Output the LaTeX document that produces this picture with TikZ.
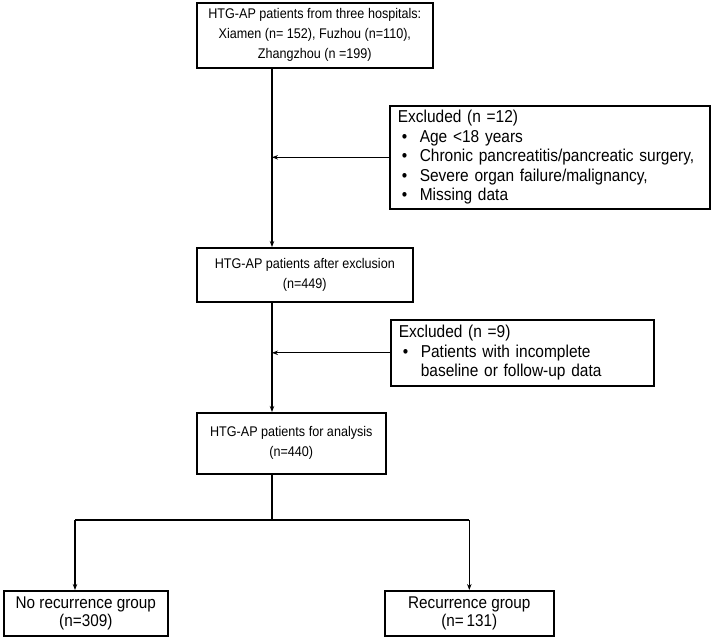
\documentclass[tikz,border=0pt]{standalone}
\usepackage{fontspec}
\setmainfont[FakeStretch=0.9]{Liberation Sans}
\usetikzlibrary{arrows.meta}
\begin{document}
\begin{tikzpicture}[x=1pt,y=-1pt,
  box/.style={draw, line width=1.6pt, anchor=north west, inner sep=0pt, align=center},
  mainbox/.style={box, font=\fontsize{14}{20}\selectfont},
  exbox/.style={box, align=left, inner xsep=8pt, font=\fontsize{17.2}{19.6}\selectfont},
  endbox/.style={box, font=\fontsize{17}{18.5}\selectfont},
  conn/.style={line width=1.3pt},
  arr/.style={conn, -{Stealth[length=6pt,width=4.5pt]}}]
\useasboundingbox (0,0) rectangle (712,637);
\newcommand{\bul}{\hspace*{4pt}\makebox[18pt][l]{\textbullet}}
\node[mainbox, minimum width=236pt, minimum height=65pt] (A) at (196,2)
  {HTG-AP patients from three hospitals:\\ Xiamen (n= 152), Fuzhou (n=110),\\ Zhangzhou (n =199)};
\node[exbox, minimum width=320pt, minimum height=103pt, text width=304pt] (B) at (389,105)
  {Excluded (n =12)\\ \bul Age <18 years\\ \bul Chronic pancreatitis/pancreatic surgery,\\ \bul Severe organ failure/malignancy,\\ \bul Missing data};
\node[mainbox, minimum width=216pt, minimum height=54pt] (C) at (196,247)
  {HTG-AP patients after exclusion\\ (n=449)};
\node[exbox, minimum width=263pt, minimum height=66pt, text width=247pt] (D) at (390,319)
  {Excluded (n =9)\\ \bul Patients with incomplete\\ \hspace*{22pt}baseline or follow-up data};
\node[mainbox, minimum width=189pt, minimum height=61pt] (E) at (196,412)
  {HTG-AP patients for analysis\\ (n=440)};
\node[endbox, minimum width=164pt, minimum height=45pt] (F) at (3,590)
  {No recurrence group\\ (n=309)};
\node[endbox, minimum width=169pt, minimum height=45pt] (G) at (384,590)
  {Recurrence group\\ (n=\,131)};
\coordinate (tx) at (272,0);
\coordinate (split) at (272,520);
\coordinate (fl) at (75,520);
\draw[arr] (A.south -| tx) -- (C.north -| tx);
\draw[arr] (B.west) -- (B.west -| tx);
\draw[arr] (C.south -| tx) -- (E.north -| tx);
\draw[arr] (D.west) -- (D.west -| tx);
\draw[conn] (E.south -| tx) -- (split);
\draw[conn] (fl) -- (G.north |- split);
\draw[arr] (fl) -- (fl |- F.north);
\draw[arr] (G.north |- split) -- (G.north);
\end{tikzpicture}
\end{document}
